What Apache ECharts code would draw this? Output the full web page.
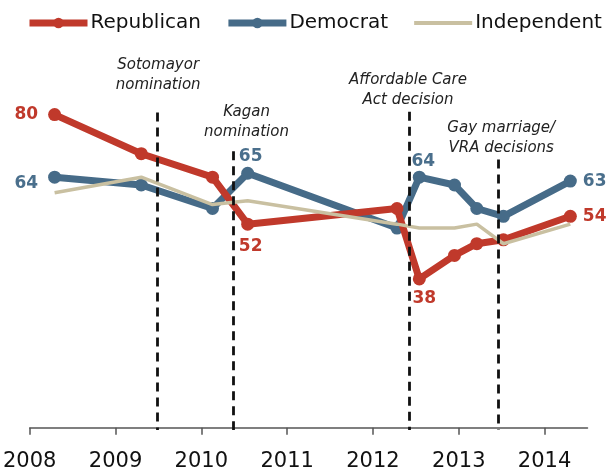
<!DOCTYPE html>
<html>
<head>
<meta charset="utf-8">
<script src="https://cdn.jsdelivr.net/npm/echarts@6/dist/echarts.min.js"></script>
<style>
  html, body { margin: 0; padding: 0; background: #fff; }
  #chart { width: 610px; height: 472px; }
</style>
</head>
<body>
<div id="chart"></div>
<script>
// ---- data ----
const yearTicks = [2008, 2009, 2010, 2011, 2012, 2013, 2014];
const surveyDates = [2008.29, 2009.30, 2010.13, 2010.54, 2012.28, 2012.54, 2012.95, 2013.21, 2013.52, 2014.30];
const republican = [80, 70, 64, 52, 56, 38, 44, 47, 48, 54];
const democrat   = [64, 62, 56, 65, 51, 64, 62, 56, 54, 63];
const independent = [60, 64, 57, 58, 52, 51, 51, 52, 47, 52];
const eventDates = [2009.485, 2010.375, 2012.42, 2013.46];
const eventLabels = ['Sotomayor\nnomination', 'Kagan\nnomination', 'Affordable Care\nAct decision', 'Gay marriage/\nVRA decisions'];

// ---- styling / layout ----
const RED = '#C0392B', BLUE = '#466B88', TAN = '#C9C0A1';
const RED_TXT = '#C0392B', BLUE_TXT = '#4A6F8C';
const eventLineTop = [80.5, 70.6, 80.75, 68.55];       // where each dashed line starts (value units)
const eventTextShift = [[1, 18], [13, 9], [-1, 2], [3, 1]]; // [dx, gap above line top] px
const labelFont = { fontFamily: 'DejaVu Sans', fontWeight: 'bold', fontSize: 17 };
const repLabelStyle = {
  0: { position: 'left', distance: 10 },
  3: { position: 'bottom', distance: 7, offset: [3, 0] },
  5: { position: 'bottom', distance: 5, offset: [5, 0] },
  9: { position: 'right', distance: 6 }
};
const demLabelStyle = {
  0: { position: 'left', distance: 10, offset: [0, 6] },
  3: { position: 'top', distance: 2, offset: [3, 0] },
  5: { position: 'top', distance: 1, offset: [4, 0] },
  9: { position: 'right', distance: 6 }
};

function buildData(values, labelMap, color) {
  return surveyDates.map((d, i) => {
    const item = { value: [d, values[i]] };
    if (labelMap && labelMap[i]) {
      item.label = Object.assign({ show: true, color: color, formatter: p => String(p.value[1]) }, labelFont, labelMap[i]);
    }
    return item;
  });
}

const chart = echarts.init(document.getElementById('chart'), null, { renderer: 'canvas' });

const option = {
  animation: false,
  backgroundColor: '#fff',
  grid: { left: 28.3, right: 22.5, top: 36.3, bottom: 40.3, containLabel: false },
  legend: {
    left: 26, top: 13, width: 590, padding: 0,
    itemWidth: 58, itemHeight: 13, itemGap: 24,
    textStyle: { fontFamily: 'DejaVu Sans', fontSize: 20, color: '#111', padding: [0, 0, 0, -2] },
    data: [
      { name: 'Republican', lineStyle: { width: 7, color: RED } },
      { name: 'Democrat', lineStyle: { width: 7, color: BLUE } },
      { name: 'Independent', lineStyle: { width: 4, color: TAN }, itemStyle: { color: 'rgba(0,0,0,0)', borderWidth: 0, opacity: 0 } }
    ]
  },
  xAxis: {
    type: 'value', min: 2008, max: 2014.5, interval: 1,
    splitLine: { show: false },
    axisLine: { show: true, lineStyle: { color: '#555', width: 1.5 } },
    axisTick: { show: true, length: 7, lineStyle: { color: '#555', width: 1.5 }, customValues: yearTicks },
    axisLabel: {
      customValues: yearTicks, margin: 21,
      fontFamily: 'DejaVu Sans', fontSize: 21, color: '#111',
      formatter: v => String(v)
    }
  },
  yAxis: { type: 'value', min: -0.6, max: 100, show: false, splitLine: { show: false } },
  series: [
    {
      name: 'Republican', type: 'line', data: buildData(republican, repLabelStyle, RED_TXT),
      symbol: 'circle', symbolSize: 13, color: RED,
      lineStyle: { width: 7, color: RED }, itemStyle: { color: RED }, z: 3
    },
    {
      name: 'Democrat', type: 'line', data: buildData(democrat, demLabelStyle, BLUE_TXT),
      symbol: 'circle', symbolSize: 13, color: BLUE,
      lineStyle: { width: 7, color: BLUE }, itemStyle: { color: BLUE }, z: 2
    },
    {
      name: 'Independent', type: 'line', data: buildData(independent, null),
      symbol: 'none', color: TAN,
      lineStyle: { width: 3.5, color: TAN }, itemStyle: { color: TAN }, z: 4,
      markLine: {
        silent: true, symbol: ['none', 'none'], animation: false,
        label: { show: false },
        lineStyle: { type: [9, 6], color: '#111', width: 2.8 },
        data: eventDates.map((d, i) => [{ coord: [d, eventLineTop[i]] }, { coord: [d, -0.6] }])
      }
    }
  ]
};
chart.setOption(option);

// annotation texts anchored on the top of each event line
const graphics = eventDates.map((d, i) => {
  const p = chart.convertToPixel({ xAxisIndex: 0, yAxisIndex: 0 }, [d, eventLineTop[i]]);
  return {
    type: 'text',
    x: p[0] + eventTextShift[i][0],
    y: p[1] - eventTextShift[i][1],
    style: {
      text: eventLabels[i], textAlign: 'center', textVerticalAlign: 'bottom',
      fontFamily: 'DejaVu Sans', fontStyle: 'italic', fontSize: 15, lineHeight: 20, fill: '#222'
    }
  };
});
chart.setOption({ graphic: graphics });
</script>
</body>
</html>
